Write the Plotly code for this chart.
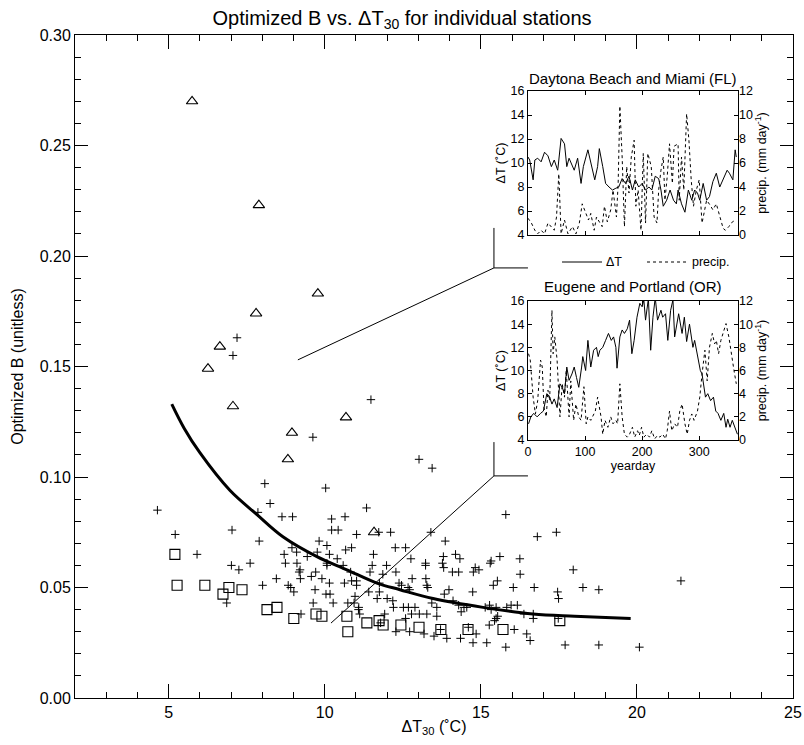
import plotly.graph_objects as go

# ---------------- main scatter data ----------------
cross_x = [4.64, 8.08, 10.03, 8.25, 11.34, 7.86, 8.63, 8.97, 10.22, 10.65, 5.21, 7.03, 10.22, 10.43, 11.02,
           11.73, 12.11, 13.40, 7.90, 9.82, 10.07, 10.67, 10.86, 12.26, 12.59, 5.91, 8.70, 9.10, 8.95, 9.76,
           10.15, 9.44, 10.40, 11.56, 12.76, 7.01, 7.25, 7.61, 8.74, 9.11, 10.07, 10.07, 10.59, 11.52, 11.98,
           13.23, 13.23, 9.21, 9.18, 9.71, 10.83, 11.45, 11.86, 12.28, 8.45, 9.22, 9.57, 9.91, 12.80, 13.24,
           8.01, 8.83, 8.91, 9.01, 10.15, 10.63, 10.86, 11.02, 11.02, 11.75, 12.38, 12.46, 12.67, 12.72, 13.27,
           13.30, 9.69, 10.04, 10.17, 11.41, 11.75, 10.97, 11.68, 6.86, 9.63, 10.27, 10.74, 10.94, 11.09, 11.08,
           12.18, 12.20, 12.52, 12.68, 12.89, 13.43, 13.59, 9.24, 11.12, 11.92, 12.78, 13.03, 13.27, 13.59, 11.79,
           12.59, 12.28, 12.72, 13.18, 13.50,
           15.80, 16.81, 17.42, 13.86, 13.80, 13.77, 13.81, 14.19, 14.33, 14.09, 14.29, 14.76, 14.82, 14.94,
           15.33, 15.30, 15.61, 16.25, 16.26, 15.53, 15.40, 16.04, 16.71, 17.46, 17.49, 17.96, 18.27, 18.78,
           14.74, 13.98, 13.83, 14.11, 14.29, 14.37, 14.46, 14.55, 15.14, 15.28, 15.33, 15.49, 15.83, 15.97,
           16.17, 16.38, 16.68, 16.68, 15.49, 15.44, 15.54, 15.27, 16.07, 16.47, 16.58, 17.48, 14.85, 14.75,
           15.19, 15.80, 14.35, 13.91, 17.70, 18.78, 20.08, 21.41, 13.71, 14.60, 12.00,
           7.19, 7.06, 11.48, 9.62, 13.02, 13.44]
cross_y = [0.085, 0.097, 0.095, 0.088, 0.086, 0.084, 0.082, 0.082, 0.081, 0.082, 0.074, 0.076, 0.076, 0.076, 0.074,
           0.075, 0.075, 0.075, 0.071, 0.071, 0.069, 0.067, 0.068, 0.068, 0.068, 0.065, 0.065, 0.066, 0.068, 0.066,
           0.065, 0.064, 0.063, 0.065, 0.063, 0.060, 0.058, 0.061, 0.061, 0.061, 0.061, 0.060, 0.060, 0.060, 0.060,
           0.061, 0.060, 0.058, 0.057, 0.057, 0.057, 0.057, 0.056, 0.057, 0.054, 0.054, 0.055, 0.054, 0.054, 0.054,
           0.051, 0.051, 0.050, 0.048, 0.052, 0.052, 0.053, 0.053, 0.051, 0.052, 0.052, 0.051, 0.050, 0.049, 0.051,
           0.050, 0.049, 0.047, 0.047, 0.048, 0.048, 0.046, 0.045, 0.043, 0.043, 0.043, 0.043, 0.043, 0.041, 0.040,
           0.044, 0.041, 0.041, 0.041, 0.041, 0.043, 0.041, 0.038, 0.038, 0.038, 0.038, 0.038, 0.038, 0.037, 0.034,
           0.036, 0.030, 0.030, 0.029, 0.028,
           0.083, 0.073, 0.075, 0.071, 0.064, 0.061, 0.059, 0.065, 0.063, 0.057, 0.057, 0.057, 0.059, 0.058,
           0.062, 0.061, 0.064, 0.063, 0.056, 0.053, 0.051, 0.050, 0.050, 0.048, 0.045, 0.058, 0.050, 0.049,
           0.048, 0.049, 0.047, 0.044, 0.042, 0.039, 0.041, 0.041, 0.041, 0.042, 0.040, 0.041, 0.041, 0.042,
           0.042, 0.038, 0.038, 0.036, 0.036, 0.035, 0.037, 0.033, 0.031, 0.029, 0.026, 0.036, 0.029, 0.025,
           0.025, 0.023, 0.027, 0.027, 0.024, 0.024, 0.023, 0.053, 0.031, 0.032, 0.045,
           0.163, 0.155, 0.135, 0.118, 0.108, 0.104]

square_x = [5.20, 5.27, 6.16, 6.93, 6.74, 7.35, 8.15, 8.47, 9.01, 9.72, 9.91, 10.71, 10.74, 11.35, 11.74,
            11.87, 12.44, 13.02, 13.72, 14.59, 15.71, 17.53]
square_y = [0.065, 0.051, 0.051, 0.050, 0.047, 0.049, 0.040, 0.041, 0.036, 0.038, 0.037, 0.037, 0.030, 0.034,
            0.035, 0.033, 0.033, 0.032, 0.031, 0.031, 0.031, 0.035]

tri_x = [5.75, 7.89, 9.78, 7.80, 6.64, 6.26, 7.06, 10.68, 8.95, 8.82, 11.58]
tri_y = [0.270, 0.223, 0.183, 0.174, 0.159, 0.149, 0.132, 0.127, 0.120, 0.108, 0.075]

curve_x = [5.1, 5.5, 6.0, 6.96, 7.83, 8.66, 9.75, 10.71, 11.67, 12.41, 13.47, 15.07, 16.67, 18.0, 19.8]
curve_y = [0.133, 0.122, 0.111, 0.094, 0.083, 0.073, 0.064, 0.058, 0.052, 0.049, 0.045, 0.041, 0.038, 0.037, 0.036]

# ---------------- inset data ----------------
fl_dt_day = [0, 3, 9, 12, 17, 23, 29, 35, 41, 46, 52, 52.5, 58, 64, 68, 72, 81, 87, 93, 97, 105, 110, 117,
             122, 125, 131, 136, 142, 148, 154, 159, 165, 171, 177, 183, 188, 194, 200, 206, 212, 217, 223,
             229, 233, 237, 243, 249, 255, 260, 263, 269, 275, 281, 287, 292, 297, 301, 307, 313, 318, 324,
             330, 336, 349, 353, 359, 363, 365]
fl_dt = [10.5, 10.25, 8.6, 10.25, 10.4, 10.1, 10.9, 10.6, 9.7, 10.25, 9.4, 9.55, 12.05, 11.6, 9.7, 10.4, 9.4,
         10.4, 8.3, 9.7, 11.1, 10.0, 8.6, 9.7, 11.2, 9.7, 8.3, 8.0, 7.75, 7.9, 8.0, 8.7, 8.3, 8.9, 7.75, 8.6,
         8.0, 8.3, 7.75, 8.0, 7.75, 8.9, 8.7, 7.75, 6.4, 6.9, 7.75, 6.9, 6.6, 7.75, 6.6, 5.9, 7.75, 6.9, 7.75,
         7.5, 6.9, 8.3, 6.9, 7.2, 8.45, 9.15, 8.0, 9.4, 9.15, 8.6, 11.1, 10.5]
fl_pr_day = [0, 6, 12, 17, 23, 29, 35, 46, 50, 54, 58, 64, 70, 78, 84, 90, 95, 106, 110, 116, 120, 130, 134,
             139, 145, 149, 155, 158, 161, 165, 169, 173, 177, 181, 186, 189, 193, 198, 202, 206, 210, 216,
             221, 226, 229, 233, 237, 240, 244, 248, 253, 256, 263, 265, 269, 273, 278, 282, 286, 290, 295,
             300, 305, 313, 319, 324, 330, 336, 342, 346, 352, 356, 363]
fl_pr = [1.4, 1.0, 0.4, 0.1, 0.4, 0.1, 1.0, 0.4, 1.5, 5.1, 0.1, 1.25, 0.1, 0.7, 0.1, 1.0, 2.6, 1.25, 1.8, 0.4,
         1.5, 0.7, 2.4, 1.1, 2.1, 3.75, 1.5, 4.3, 10.75, 6.5, 0.7, 5.7, 3.5, 6.5, 7.9, 2.4, 3.75, 0.4, 6.8, 1.0,
         6.8, 5.7, 1.5, 1.0, 3.75, 5.4, 6.5, 2.9, 4.9, 7.6, 4.3, 7.4, 7.6, 2.9, 6.5, 3.75, 10.1, 7.9, 4.6, 2.4,
         3.75, 4.6, 1.0, 2.9, 2.5, 2.1, 2.6, 1.5, 0.55, 0.4, 0.7, 1.0, 1.25]
fl_pr_day = fl_pr_day[:len(fl_pr)]

or_dt_day = [1, 5, 10, 16, 22, 27, 33, 38, 42, 46, 51, 56, 60, 64, 68, 72, 77, 81, 85, 89, 94, 96, 101, 105,
             110, 115, 120, 123, 126, 131, 136, 141, 146, 150, 154, 156, 161, 165, 169, 174, 178, 182, 186,
             191, 196, 200, 203, 206, 211, 215, 219, 223, 227, 233, 236, 241, 245, 250, 254, 257, 264, 270,
             274, 278, 283, 287, 289, 292, 297, 302, 305, 311, 315, 320, 325, 329, 333, 338, 343, 347, 350,
             354, 358, 367]
or_dt = [5.4, 6.0, 6.3, 6.0, 6.3, 6.5, 8.0, 7.7, 7.1, 7.55, 6.8, 8.85, 8.55, 8.0, 10.3, 9.15, 9.7, 10.3, 9.4,
         8.55, 10.3, 11.2, 10.0, 12.6, 10.3, 11.75, 12.0, 11.2, 11.75, 12.0, 12.6, 13.2, 12.6, 12.9, 12.0, 10.2,
         12.9, 13.5, 13.2, 13.6, 14.35, 11.45, 12.6, 14.6, 15.8, 15.5, 16.1, 14.35, 16.2, 11.75, 14.6, 16.3,
         14.35, 15.2, 14.6, 14.9, 12.6, 15.2, 16.1, 12.9, 14.9, 13.2, 14.6, 12.5, 14.0, 12.9, 12.0, 12.6, 11.45,
         10.0, 9.7, 7.7, 8.0, 7.4, 7.7, 6.5, 6.3, 5.7, 6.3, 5.1, 5.8, 5.1, 5.7, 4.5]
or_dt = or_dt[:len(or_dt_day)]
or_pr_day = [1, 4, 9, 13, 17, 22, 25, 28, 32, 35, 38, 42, 44, 47, 51, 56, 60, 64, 67, 72, 75, 80, 84, 89, 93,
             98, 102, 105, 110, 118, 122, 128, 131, 135, 140, 145, 149, 154, 157, 161, 165, 169, 174, 178,
             183, 187, 192, 195, 199, 203, 208, 213, 217, 222, 227, 231, 236, 241, 244, 248, 252, 257, 262,
             266, 270, 275, 279, 283, 287, 291, 297, 301, 305, 310, 314, 318, 323, 327, 330, 334, 338, 343,
             347, 352, 356, 361, 365]
or_pr = [7.45, 6.9, 3.7, 2.25, 3.4, 6.9, 6.3, 2.8, 2.0, 4.3, 3.4, 11.2, 7.45, 8.9, 6.9, 2.0, 4.85, 3.7, 6.0,
         2.0, 5.1, 1.7, 3.1, 2.0, 1.7, 4.6, 1.4, 2.0, 1.7, 2.5, 3.7, 2.0, 0.5, 1.7, 1.1, 2.0, 1.4, 1.7, 1.4, 4.85,
         2.0, 0.5, 0.25, 0.5, 1.1, 0.25, 0.8, 0.4, 1.1, 0.25, 0.5, 0.25, 0.8, 0.1, 0.4, 0.25, 0.5, 0.1, 0.8, 2.5,
         0.8, 1.4, 1.1, 2.5, 3.1, 1.4, 0.5, 1.7, 2.25, 1.7, 2.5, 3.7, 5.7, 7.75, 5.1, 8.0, 9.2, 8.3, 8.6, 7.45,
         8.6, 9.5, 10.05, 8.9, 7.45, 6.0, 4.85, 4.0, 2.5, 3.1]
or_pr = or_pr[:len(or_pr_day)]

FONT = "Liberation Sans, Arial, Helvetica, sans-serif"

fig = go.Figure()

fig.add_trace(go.Scatter(x=cross_x, y=cross_y, mode="markers",
                         marker=dict(symbol="cross-thin-open", size=6, color="black",
                                     line=dict(width=1, color="black")),
                         showlegend=False, cliponaxis=False))
fig.add_trace(go.Scatter(x=square_x, y=square_y, mode="markers",
                         marker=dict(symbol="square-open", size=10, color="black",
                                     line=dict(width=1.1, color="black")),
                         showlegend=False))
fig.add_trace(go.Scatter(x=tri_x, y=tri_y, mode="markers",
                         marker=dict(symbol="triangle-up-open", size=10, color="black",
                                     line=dict(width=1.1, color="black")),
                         showlegend=False))
fig.add_trace(go.Scatter(x=curve_x, y=curve_y, mode="lines", line=dict(color="black", width=3, shape="spline"),
                         showlegend=False))

# inset traces
fig.add_trace(go.Scatter(x=fl_dt_day, y=fl_dt, mode="lines", line=dict(color="black", width=1),
                         xaxis="x2", yaxis="y2", showlegend=False))
fig.add_trace(go.Scatter(x=fl_pr_day, y=fl_pr, mode="lines", line=dict(color="black", width=1, dash="dot"),
                         xaxis="x2", yaxis="y3", showlegend=False))
fig.add_trace(go.Scatter(x=or_dt_day, y=or_dt, mode="lines", line=dict(color="black", width=1),
                         xaxis="x3", yaxis="y4", showlegend=False))
fig.add_trace(go.Scatter(x=or_pr_day, y=or_pr, mode="lines", line=dict(color="black", width=1, dash="dot"),
                         xaxis="x3", yaxis="y5", showlegend=False))

tickfont = dict(family=FONT, size=16, color="black")
small = dict(family=FONT, size=12.5, color="black")

main_x = dict(range=[2, 25], tick0=0, dtick=5, ticks="inside", ticklen=14, tickwidth=1, tickcolor="black",
              minor=dict(dtick=1, ticks="inside", ticklen=6, tickcolor="black", tickwidth=1),
              showline=True, linecolor="black", linewidth=1, mirror="allticks", showgrid=False, zeroline=False,
              tickfont=tickfont, automargin=False,
              title=dict(text="ΔT<sub>30</sub> (˚C)", font=dict(family=FONT, size=16, color="black"), standoff=0))
main_y = dict(range=[0, 0.30], tick0=0, dtick=0.05, tickformat=".2f", ticks="inside", ticklen=13, tickwidth=1,
              tickcolor="black",
              minor=dict(dtick=0.01, ticks="inside", ticklen=6, tickcolor="black", tickwidth=1),
              showline=True, linecolor="black", linewidth=1, mirror="allticks", showgrid=False, zeroline=False,
              tickfont=tickfont, automargin=False,
              title=dict(text="Optimized B (unitless)", font=dict(family=FONT, size=16, color="black"), standoff=12))

d_x = [0.6309, 0.9234]
inset_common = dict(showline=True, linecolor="black", linewidth=1, mirror="ticks", showgrid=False,
                    zeroline=False, ticks="inside", tickcolor="black", ticklen=4, tickfont=small,
                    automargin=False)
right_common = dict(showline=False, showgrid=False, zeroline=False, ticks="inside", ticklen=4,
                    tickcolor="black", tickfont=small, automargin=False)

fig.update_layout(
    width=804, height=745,
    margin=dict(l=75, r=11, t=35, b=47, autoexpand=False),
    paper_bgcolor="white", plot_bgcolor="white",
    font=dict(family=FONT, color="black"),
    title=dict(text="Optimized B vs. ΔT<sub>30</sub> for individual stations", x=0.5, xref="container",
               y=1 - 18 / 745, yref="container", yanchor="middle", xanchor="center",
               font=dict(family=FONT, size=20, color="black")),
    xaxis=main_x, yaxis=main_y,
    xaxis2=dict(domain=d_x, anchor="y2", range=[0, 368], showticklabels=False, tickvals=[0, 100, 200, 300],
                **inset_common),
    yaxis2=dict(domain=[0.6983, 0.9155], anchor="x2", range=[4, 16], dtick=2,
                title=dict(text="ΔT (˚C)", font=small, standoff=2), **inset_common),
    yaxis3=dict(overlaying="y2", anchor="x2", side="right", range=[0, 12], dtick=2,
                title=dict(text="precip. (mm day<sup>-1</sup>)", font=small, standoff=2), **right_common),
    xaxis3=dict(domain=d_x, anchor="y4", range=[0, 368], tickvals=[0, 100, 200, 300],
                title=dict(text="yearday", font=small, standoff=2), **inset_common),
    yaxis4=dict(domain=[0.3891, 0.5988], anchor="x3", range=[4, 16], dtick=2,
                title=dict(text="ΔT (˚C)", font=small, standoff=2), **inset_common),
    yaxis5=dict(overlaying="y4", anchor="x3", side="right", range=[0, 12], dtick=2,
                title=dict(text="precip. (mm day<sup>-1</sup>)", font=small, standoff=2), **right_common),
)

# callout lines (main axis coordinates)
callouts = [
    (9.14, 0.153, 15.42, 0.1946), (15.42, 0.1946, 16.51, 0.1946), (15.42, 0.1946, 15.42, 0.2127),
    (10.20, 0.0339, 15.42, 0.1005), (15.42, 0.1005, 16.51, 0.1005), (15.42, 0.1005, 15.42, 0.1158),
]
for x0, y0, x1, y1 in callouts:
    fig.add_shape(type="line", xref="x", yref="y", x0=x0, y0=y0, x1=x1, y1=y1,
                  line=dict(color="black", width=1))

# inset titles
fig.add_annotation(text="Daytona Beach and Miami (FL)", xref="paper", yref="paper", x=0.777, y=0.935,
                   xanchor="center", yanchor="middle", showarrow=False,
                   font=dict(family=FONT, size=15, color="black"))
fig.add_annotation(text="Eugene and Portland (OR)", xref="paper", yref="paper", x=0.777, y=0.620,
                   xanchor="center", yanchor="middle", showarrow=False,
                   font=dict(family=FONT, size=15, color="black"))

# legend row between insets
fig.add_shape(type="line", xref="paper", yref="paper", x0=0.6783, x1=0.7340, y0=0.6576, y1=0.6576,
              line=dict(color="black", width=1))
fig.add_annotation(text="ΔT", xref="paper", yref="paper", x=0.7368, y=0.6576, xanchor="left",
                   yanchor="middle", showarrow=False, font=small)
fig.add_shape(type="line", xref="paper", yref="paper", x0=0.7967, x1=0.8538, y0=0.6576, y1=0.6576,
              line=dict(color="black", width=1, dash="dot"))
fig.add_annotation(text="precip.", xref="paper", yref="paper", x=0.8565, y=0.6576, xanchor="left",
                   yanchor="middle", showarrow=False, font=small)

fig.write_html("out.html")
